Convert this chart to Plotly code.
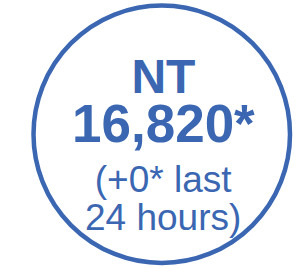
import plotly.graph_objects as go

region = "NT"
total = "16,820*"
change = "(+0* last"
period = "24 hours)"

W, H = 296, 269
blue = "#3a66b2"
font = "Liberation Sans, Arial, sans-serif"

fig = go.Figure()
fig.add_shape(type="circle", xref="x", yref="y", x0=33.5, x1=290, y0=5.5, y1=263,
              line=dict(color=blue, width=4.5), fillcolor="white")

# headline block: region + total (line spacing 1.3 x base size)
head = (f"<b><span style='font-size:48px'>{region}</span><br>"
        f"<span style='font-size:53px'>{total}</span></b>")
fig.add_annotation(x=163, y=101.5, xref="x", yref="y", text=head,
                   showarrow=False, xanchor="center", yanchor="middle", align="center",
                   font=dict(family=font, size=38, color=blue))

# sub block: change over last 24 hours (tighter line spacing)
sub = (f"<span style='font-size:37px'>{change}</span><br>"
       f"<span style='font-size:37px'>{period}</span>")
fig.add_annotation(x=163, y=198, xref="x", yref="y", text=sub,
                   showarrow=False, xanchor="center", yanchor="middle", align="center",
                   font=dict(family=font, size=29.2, color=blue))

fig.update_layout(width=W, height=H, margin=dict(l=0, r=0, t=0, b=0),
                  paper_bgcolor="white", plot_bgcolor="white",
                  xaxis=dict(range=[0, W], visible=False, fixedrange=True),
                  yaxis=dict(range=[H, 0], visible=False, fixedrange=True),
                  showlegend=False)
fig.write_html("out.html", config={"displayModeBar": False},
               post_script="document.body.style.margin='0';document.body.style.overflow='hidden';")
